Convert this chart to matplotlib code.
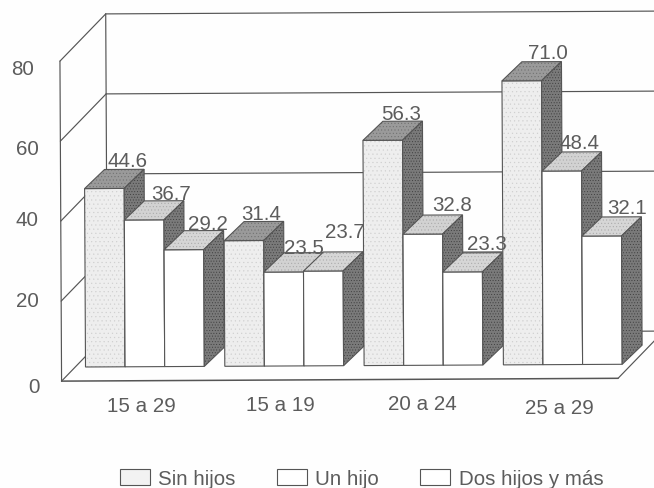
"""Bar chart with an oblique 3D look: share by age group and number of children."""

import matplotlib
matplotlib.use('Agg')
import numpy as np
import matplotlib.pyplot as plt
from matplotlib.patches import Polygon, Patch
from matplotlib.transforms import Affine2D

# Data
age_groups = ['15 a 29', '15 a 19', '20 a 24', '25 a 29']
series_names = ['Sin hijos', 'Un hijo', 'Dos hijos y más']
sin_hijos = [44.6, 31.4, 56.3, 71.0]
un_hijo = [36.7, 23.5, 32.8, 48.4]
dos_hijos = [29.2, 23.7, 23.3, 32.1]
y_ticks = [0, 20, 40, 60, 80]

# Scales: one category is 139.3 px wide, one value unit 4 px tall
W, H = 654, 489
X0, Y0 = 85.5, 368
PX_CAT, PX_VAL = 139.3, 4.0
BAR_W = 39.6 / PX_CAT
BAR_DX, BAR_DY = 20 / PX_CAT, 19 / PX_VAL
WALL_DX, WALL_DY = 46 / PX_CAT, 47 / PX_VAL
FLOOR_X0, FLOOR_X1 = (61.5 - X0) / PX_CAT, (618 - X0) / PX_CAT
FLOOR_Y = -3.5
FONT_SIZE = 14.8

TEXT = '#5c5c5c'
LINE = '#555555'
FACE_COLORS = ['#eeeeee', '#ffffff', '#ffffff']
TOP_COLORS = ['#9a9a9a', '#d2d2d2', '#d6d6d6']
SIDE_COLOR = '#7a7a7a'

plt.rcParams['font.family'] = ['Liberation Sans', 'DejaVu Sans']
plt.rcParams['hatch.linewidth'] = 0.35

fig = plt.figure(figsize=(W / 100, H / 100), dpi=100, facecolor='#fefefe')
ax = fig.add_axes([0, 0, 1, 1])
ax.set_xlim(-X0 / PX_CAT, (W - X0) / PX_CAT)
ax.set_ylim((Y0 - H) / PX_VAL, Y0 / PX_VAL)
ax.axis('off')

# The whole drawing leans very slightly to the left
tilt = ax.transData + Affine2D().rotate_deg_around(X0, H - Y0, 0.29)


def draw_line(xs, ys, lw=0.85, color=LINE, zorder=1):
    ax.plot(xs, ys, color=color, lw=lw, transform=tilt, zorder=zorder,
            solid_capstyle='round')


def draw_face(points, color, hatch_color=None, hatch=None):
    """Filled polygon with an optional stipple and a thin dark outline."""
    ax.add_patch(Polygon(points, closed=True, facecolor=color,
                         edgecolor=hatch_color or color, hatch=hatch,
                         lw=0, transform=tilt, zorder=2))
    ax.add_patch(Polygon(points, closed=True, fill=False, edgecolor=LINE,
                         lw=0.8, transform=tilt, zorder=2))


def draw_bar(x, value, series):
    w, dx, dy = BAR_W, BAR_DX, BAR_DY
    front_hatch = '....' if series == 0 else None
    draw_face([(x, 0), (x + w, 0), (x + w, value), (x, value)],
              FACE_COLORS[series], '#cfcfcf', front_hatch)
    draw_face([(x, value), (x + w, value), (x + w + dx, value + dy), (x + dx, value + dy)],
              TOP_COLORS[series], '#6e6e6e' if series == 0 else '#a8a8a8', '.....')
    draw_face([(x + w, 0), (x + w + dx, dy), (x + w + dx, value + dy), (x + w, value)],
              SIDE_COLOR, '#3c3c3c', '......')


# Back wall, left wall and floor; the 20 line stays behind the last bars
back_x = FLOOR_X0 + WALL_DX
wall_end = FLOOR_X1 + WALL_DX
for tick in y_ticks:
    front_y = FLOOR_Y + tick
    back_y = front_y + WALL_DY
    draw_line([FLOOR_X0, back_x], [front_y, back_y])
    draw_line([back_x, 3.5 if tick == 20 else wall_end], [back_y, back_y])
draw_line([FLOOR_X0, FLOOR_X0], [FLOOR_Y, FLOOR_Y + y_ticks[-1]])
draw_line([back_x, back_x], [FLOOR_Y + WALL_DY, FLOOR_Y + WALL_DY + y_ticks[-1]])
draw_line([FLOOR_X0, FLOOR_X1], [FLOOR_Y, FLOOR_Y], lw=1.1)
draw_line([FLOOR_X1, FLOOR_X1 + WALL_DX], [FLOOR_Y, FLOOR_Y + WALL_DY])

# Bars, painted left to right so later tops overlap earlier sides
series_values = [sin_hijos, un_hijo, dos_hijos]
# label offsets from the top back edge of each bar, in px (right, up)
label_nudges = [[(3, 9), (7, 7), (4, 7)],
                [(-3, 8), (0, 5), (2, 20)],
                [(-2, 8), (9, 10), (4, 9)],
                [(6, 9), (-2, 9), (5, 9)]]
for g in range(len(age_groups)):
    for s, values in enumerate(series_values):
        x = g + s * BAR_W
        draw_bar(x, values[g], s)
        nx, ny = label_nudges[g][s]
        ax.text(x + BAR_W / 2 + BAR_DX + nx / PX_CAT, values[g] + BAR_DY + ny / PX_VAL,
                f'{values[g]:.1f}', ha='center', va='center', fontsize=FONT_SIZE,
                color=TEXT, transform=tilt, zorder=3)

# Value axis labels, right aligned beside the left wall
tick_right = [40, 39, 39, 39, 34]
tick_y = [388, 302, 221, 150, 70]
for tick, px, py in zip(y_ticks, tick_right, tick_y):
    ax.text((px - X0) / PX_CAT, (Y0 - py) / PX_VAL, str(tick), ha='right', va='center',
            fontsize=FONT_SIZE, color=TEXT)

# Category labels
label_x = [141, 280, 422, 559]
label_y = [407, 406, 405, 409]
for name, px, py in zip(age_groups, label_x, label_y):
    ax.text((px - X0) / PX_CAT, (Y0 - py) / PX_VAL, name, ha='center', va='center',
            fontsize=FONT_SIZE, color=TEXT)

# Legend
handles = [Patch(facecolor=c, edgecolor=LINE, lw=0.8, label=n)
           for c, n in zip(['#f2f2f2', '#ffffff', '#ffffff'], series_names)]
ax.legend(handles=handles, ncol=3, frameon=False, loc='center', fontsize=FONT_SIZE,
          bbox_to_anchor=(0.553, 0.0195), bbox_transform=fig.transFigure,
          handlelength=1.46, handleheight=0.85, handletextpad=0.42, columnspacing=2.0,
          labelcolor=TEXT, borderpad=0, borderaxespad=0)

fig.savefig('out.png', dpi=100, facecolor=fig.get_facecolor())
